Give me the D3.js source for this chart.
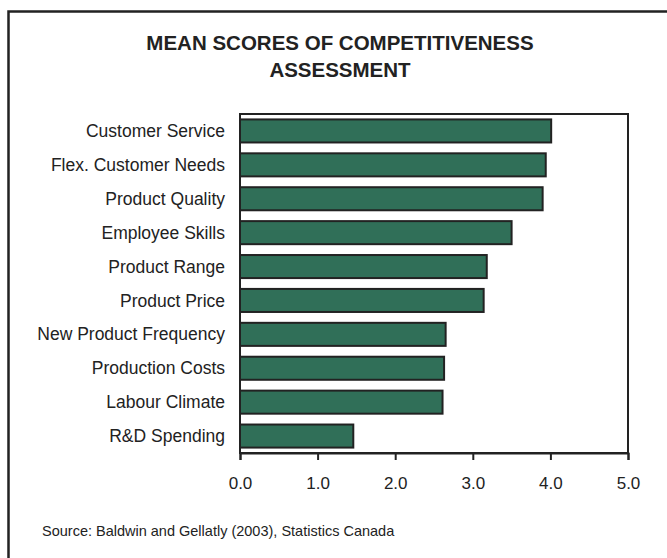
<!DOCTYPE html>
<html>
<head>
<meta charset="utf-8">
<script src="https://cdn.jsdelivr.net/npm/d3@7"></script>
<style>
  body { margin: 0; background: #fff; }
  svg text { font-family: "Liberation Sans", Arial, sans-serif; fill: #222; }
</style>
</head>
<body>
<div id="chart"></div>
<script>
// Data
var categories = ['Customer Service', 'Flex. Customer Needs', 'Product Quality', 'Employee Skills',
  'Product Range', 'Product Price', 'New Product Frequency', 'Production Costs',
  'Labour Climate', 'R&D Spending'];
var scores = [4.01, 3.94, 3.90, 3.50, 3.18, 3.14, 2.65, 2.63, 2.61, 1.46];
var tickValues = [0, 1, 2, 3, 4, 5];
var titleLines = ['MEAN SCORES OF COMPETITIVENESS', 'ASSESSMENT'];
var sourceText = 'Source: Baldwin and Gellatly (2003), Statistics Canada';

var width = 667, height = 558;
var plot = { left: 240, right: 628, top: 114, bottom: 453 };

var svg = d3.select('#chart').append('svg')
  .attr('width', width)
  .attr('height', height);

// Outer frame (runs off the right and bottom edges)
svg.append('rect')
  .attr('x', 8.5)
  .attr('y', 11.5)
  .attr('width', 700)
  .attr('height', 600)
  .attr('fill', 'none')
  .attr('stroke', '#222')
  .attr('stroke-width', 2.5);

// Title
svg.selectAll('.title')
  .data(titleLines)
  .enter()
  .append('text')
  .attr('class', 'title')
  .attr('x', 340)
  .attr('y', (d, i) => 50 + i * 27)
  .attr('text-anchor', 'middle')
  .style('font-size', '20.5px')
  .style('font-weight', 'bold')
  .text(d => d);

// Scales
var x = d3.scaleLinear().domain([0, 5]).range([plot.left, plot.right]);
var y = d3.scaleBand().domain(categories).range([plot.top, plot.bottom]).paddingInner(0.32).paddingOuter(0.16);

// Bars
svg.selectAll('.bar')
  .data(categories)
  .enter()
  .append('rect')
  .attr('class', 'bar')
  .attr('x', x(0))
  .attr('y', d => y(d))
  .attr('width', (d, i) => x(scores[i]) - x(0))
  .attr('height', y.bandwidth())
  .attr('fill', '#306f58')
  .attr('stroke', '#222')
  .attr('stroke-width', 2);

// Plot frame
svg.append('rect')
  .attr('x', plot.left)
  .attr('y', plot.top)
  .attr('width', plot.right - plot.left)
  .attr('height', plot.bottom - plot.top)
  .attr('fill', 'none')
  .attr('stroke', '#222')
  .attr('stroke-width', 2);

// Category labels
svg.selectAll('.cat')
  .data(categories)
  .enter()
  .append('text')
  .attr('class', 'cat')
  .attr('x', 225)
  .attr('y', d => y(d) + y.bandwidth() / 2)
  .attr('dy', '0.35em')
  .attr('text-anchor', 'end')
  .style('font-size', '17.5px')
  .text(d => d);

// X axis
var xAxis = svg.append('g')
  .attr('transform', 'translate(0,' + plot.bottom + ')')
  .call(d3.axisBottom(x).tickValues(tickValues).tickFormat(d3.format('.1f')).tickSize(7).tickPadding(17));

xAxis.select('.domain').attr('stroke', '#222').attr('stroke-width', 2);
xAxis.selectAll('.tick line').attr('stroke', '#222').attr('stroke-width', 2);
xAxis.selectAll('.tick text')
  .style('font-size', '17px')
  .style('font-family', '"Liberation Sans", Arial, sans-serif')
  .attr('fill', '#222');

// Source
svg.append('text')
  .attr('x', 42)
  .attr('y', 536)
  .style('font-size', '14.5px')
  .text(sourceText);
</script>
</body>
</html>
